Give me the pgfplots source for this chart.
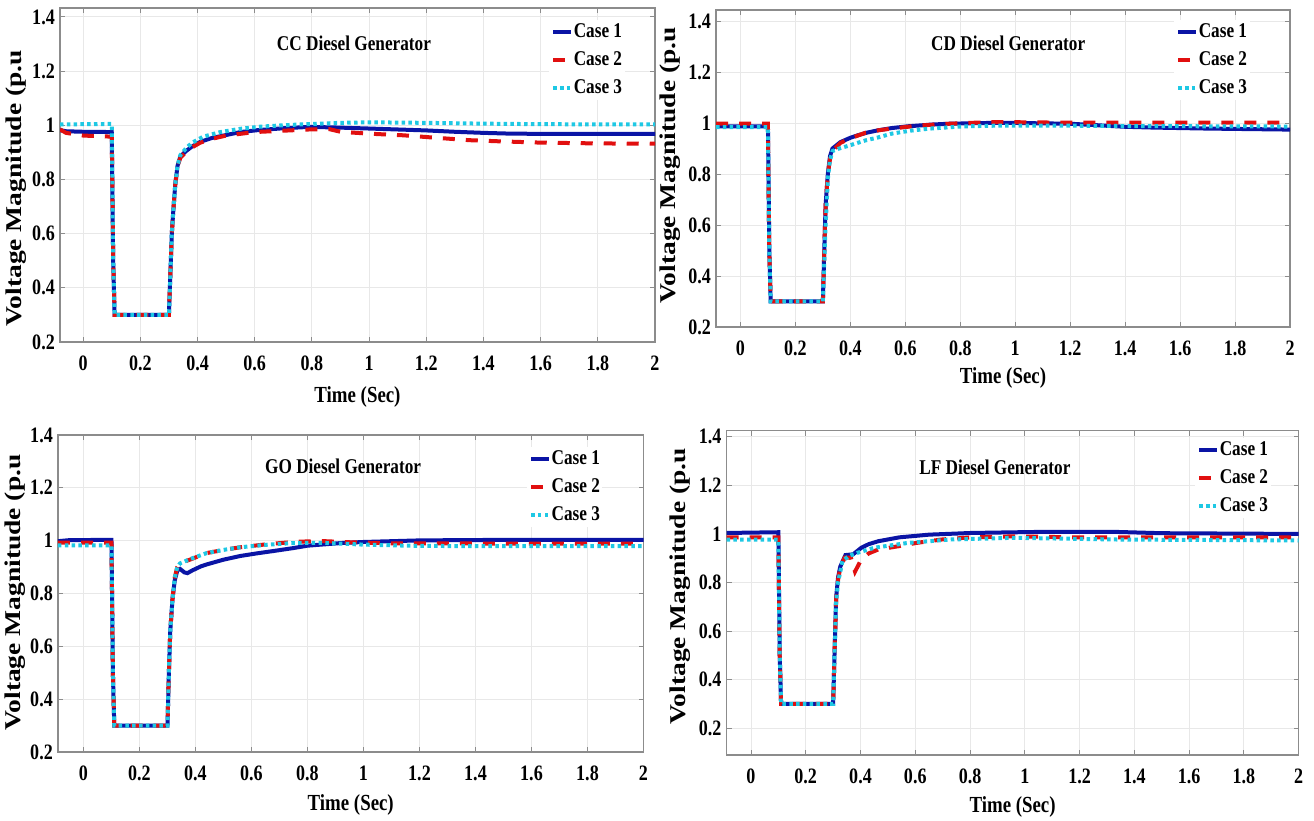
\documentclass[border=0pt]{standalone}
\usepackage{graphicx}
\usepackage{fontspec}
\setmainfont{Liberation Serif}[FakeStretch=0.82]
\newfontfamily\ylabfont{Liberation Serif}
\usepackage{pgfplots}
\pgfplotsset{compat=1.18}
\definecolor{cA}{RGB}{10,20,165}
\definecolor{cB}{RGB}{225,15,15}
\definecolor{cC}{RGB}{30,200,228}

\tikzset{ttl/.style={font=\fontsize{21}{21}\selectfont\bfseries, anchor=center}}
\pgfplotsset{
  panel/.style={
    scale only axis,
    xmax=2, ymin=0.2,
    xtick={0,0.2,0.4,0.6,0.8,1,1.2,1.4,1.6,1.8,2},
    xticklabels={0,0.2,0.4,0.6,0.8,1,1.2,1.4,1.6,1.8,2},
    ytick={0.2,0.4,0.6,0.8,1,1.2,1.4},
    yticklabels={0.2,0.4,0.6,0.8,1,1.2,1.4},
    grid=major,
    major grid style={draw=black!9, line width=0.9pt},
    axis line style={draw=black!45, line width=1.1pt},
    tick align=inside, major tick length=5pt,
    tick style={draw=black!45, line width=0.9pt},
    xticklabel style={font=\fontsize{22}{22}\selectfont\bfseries, anchor=base, yshift=-29pt},
    yticklabel style={font=\fontsize{22}{22}\selectfont\bfseries, anchor=east, inner sep=0pt, xshift=-5pt},
    xlabel={Time (Sec)},
    ylabel={\scalebox{1}[0.82]{Voltage Magnitude (p.u}},
    xlabel style={font=\fontsize{23}{23}\selectfont\bfseries, anchor=base},
    ylabel style={font=\ylabfont\bfseries\fontsize{27.5}{27.5}\selectfont, anchor=center},
    legend cell align=left,
    legend image code/.code={\draw[#1] (0pt,0pt) -- (18pt,0pt);},
    legend style={anchor=north west, draw=none, fill=white, inner xsep=2pt, inner ysep=2pt,
      font=\fontsize{21}{21}\selectfont\bfseries, row sep=8pt,
      nodes={inner sep=0.5pt, text height=15pt, text depth=4pt}},
  },
  c1/.style={cA, line width=4pt},
  c2/.style={cB, line width=4pt, dash pattern=on 12pt off 11pt},
  c3/.style={cC, line width=4pt, dash pattern=on 3.5pt off 3.3pt},
}

\begin{document}
\begin{tikzpicture}
\path[use as bounding box] (0pt,0pt) rectangle (1314pt,821pt);

% ---------------- Panel 1: CC ----------------
\begin{axis}[panel, at={(60pt,479pt)}, anchor=south west, width=595pt, height=334pt,
  xmin=-0.081, ymax=1.433,
  xlabel style={at={(axis description cs:0.5,-0.18)}},
  ylabel style={at={(axis description cs:-0.074,0.46)}},
  legend style={at={(0.822,0.964)}}]
\addplot[c1] coordinates {(-0.081,0.982) (-0.06,0.978) (0.0,0.976) (0.1,0.975) (0.105,0.5) (0.11,0.3) (0.3,0.3) (0.305,0.45) (0.31,0.6) (0.315,0.68) (0.322,0.78) (0.33,0.85) (0.34,0.885) (0.36,0.905) (0.38,0.921) (0.41,0.939) (0.45,0.953) (0.5,0.964) (0.55,0.975) (0.61,0.982) (0.7,0.989) (0.79,0.994) (0.88,0.992) (1.0,0.988) (1.2,0.981) (1.3,0.976) (1.4,0.972) (1.5,0.969) (1.7,0.968) (2.0,0.968)};
\addplot[c2] coordinates {(-0.081,0.985) (-0.06,0.972) (0.0,0.962) (0.1,0.958) (0.105,0.5) (0.11,0.3) (0.3,0.3) (0.305,0.45) (0.31,0.6) (0.315,0.68) (0.322,0.78) (0.33,0.85) (0.34,0.88) (0.36,0.902) (0.38,0.918) (0.41,0.936) (0.45,0.95) (0.5,0.962) (0.6,0.975) (0.7,0.98) (0.8,0.985) (0.86,0.986) (0.9,0.976) (1.0,0.969) (1.12,0.963) (1.22,0.955) (1.35,0.945) (1.45,0.941) (1.6,0.936) (1.8,0.933) (2.0,0.932)};
\addplot[c3] coordinates {(-0.081,1.003) (0.0,1.004) (0.1,1.005) (0.105,0.5) (0.11,0.3) (0.3,0.3) (0.305,0.45) (0.31,0.6) (0.315,0.68) (0.322,0.78) (0.33,0.85) (0.34,0.89) (0.36,0.915) (0.38,0.935) (0.42,0.958) (0.48,0.975) (0.55,0.987) (0.62,0.995) (0.7,1.0) (0.8,1.005) (0.9,1.009) (1.0,1.011) (1.2,1.009) (1.4,1.006) (1.6,1.004) (2.0,1.003)};
\legend{Case 1,Case 2,Case 3}
\node[ttl] at (rel axis cs:0.494,0.895) {CC Diesel Generator};
\end{axis}

% ---------------- Panel 2: CD ----------------
\begin{axis}[panel, at={(716pt,494pt)}, anchor=south west, width=574pt, height=317pt,
  xmin=-0.089, ymax=1.443,
  xlabel style={at={(axis description cs:0.5,-0.177)}},
  ylabel style={at={(axis description cs:-0.080,0.51)}},
  legend style={at={(0.798,0.968)}}]
\addplot[c1] coordinates {(-0.089,0.987) (0.1,0.987) (0.105,0.5) (0.11,0.3) (0.3,0.3) (0.305,0.5) (0.31,0.68) (0.318,0.8) (0.326,0.87) (0.335,0.9) (0.364,0.925) (0.4,0.942) (0.425,0.951) (0.46,0.962) (0.5,0.971) (0.55,0.98) (0.61,0.987) (0.7,0.994) (0.76,0.997) (0.9,1.0) (1.0,1.0) (1.2,0.997) (1.3,0.991) (1.4,0.985) (1.5,0.982) (1.7,0.978) (2.0,0.974)};
\addplot[c2] coordinates {(-0.089,0.997) (0.1,0.997) (0.105,0.5) (0.11,0.3) (0.3,0.3) (0.305,0.5) (0.31,0.68) (0.318,0.8) (0.326,0.86) (0.335,0.89) (0.364,0.922) (0.4,0.94) (0.456,0.962) (0.5,0.971) (0.55,0.978) (0.65,0.99) (0.76,0.997) (0.9,1.003) (1.0,1.003) (1.2,1.001) (2.0,1.001)};
\addplot[c3] coordinates {(-0.089,0.984) (0.1,0.984) (0.105,0.5) (0.11,0.3) (0.3,0.3) (0.305,0.45) (0.31,0.6) (0.318,0.78) (0.325,0.85) (0.335,0.89) (0.36,0.9) (0.4,0.913) (0.456,0.932) (0.5,0.943) (0.55,0.958) (0.62,0.97) (0.69,0.978) (0.8,0.986) (0.9,0.989) (1.1,0.99) (1.4,0.988) (2.0,0.986)};
\legend{Case 1,Case 2,Case 3}
\node[ttl] at (rel axis cs:0.509,0.896) {CD Diesel Generator};
\end{axis}

% ---------------- Panel 3: GO ----------------
\begin{axis}[panel, at={(58pt,69pt)}, anchor=south west, width=585.5pt, height=317pt,
  xmin=-0.091, ymax=1.4,
  xlabel style={at={(axis description cs:0.5,-0.183)}},
  ylabel style={at={(axis description cs:-0.073,0.503)}},
  legend style={at={(0.801,0.962)}}]
\addplot[c1] coordinates {(-0.091,0.998) (-0.05,1.002) (0.1,1.003) (0.105,0.5) (0.11,0.3) (0.3,0.3) (0.305,0.5) (0.31,0.66) (0.318,0.78) (0.326,0.85) (0.335,0.887) (0.345,0.893) (0.36,0.88) (0.371,0.877) (0.39,0.888) (0.42,0.903) (0.44,0.91) (0.5,0.928) (0.56,0.942) (0.62,0.952) (0.68,0.961) (0.75,0.972) (0.8,0.981) (0.92,0.991) (1.0,0.995) (1.2,1.001) (1.5,1.003) (2.0,1.003)};
\addplot[c2] coordinates {(-0.091,0.993) (0.1,0.993) (0.105,0.5) (0.11,0.3) (0.3,0.3) (0.305,0.5) (0.31,0.66) (0.318,0.78) (0.326,0.86) (0.335,0.9) (0.345,0.915) (0.38,0.928) (0.44,0.953) (0.5,0.965) (0.56,0.975) (0.66,0.987) (0.75,0.995) (0.84,0.999) (0.95,0.994) (1.1,0.99) (1.5,0.989) (2.0,0.989)};
\addplot[c3] coordinates {(-0.091,0.982) (0.1,0.982) (0.105,0.5) (0.11,0.3) (0.3,0.3) (0.305,0.5) (0.31,0.66) (0.318,0.78) (0.326,0.86) (0.335,0.9) (0.345,0.914) (0.38,0.93) (0.44,0.953) (0.5,0.965) (0.56,0.975) (0.66,0.985) (0.75,0.991) (0.85,0.992) (1.0,0.985) (1.2,0.98) (1.6,0.979) (2.0,0.979)};
\legend{Case 1,Case 2,Case 3}
\node[ttl] at (rel axis cs:0.487,0.902) {GO Diesel Generator};
\end{axis}

% ---------------- Panel 4: LF ----------------
\begin{axis}[panel, at={(726.6pt,66pt)}, anchor=south west, width=572pt, height=324.3pt,
  xmin=-0.089, ymin=0.09, ymax=1.425,
  xlabel style={at={(axis description cs:0.5,-0.176)}},
  ylabel style={at={(axis description cs:-0.082,0.52)}},
  legend style={at={(0.819,0.977)}}]
\addplot[c1] coordinates {(-0.089,1.004) (0.1,1.007) (0.105,0.5) (0.11,0.3) (0.3,0.3) (0.305,0.5) (0.311,0.738) (0.318,0.82) (0.326,0.865) (0.345,0.913) (0.373,0.916) (0.403,0.943) (0.43,0.958) (0.465,0.97) (0.542,0.986) (0.65,0.997) (0.804,1.004) (1.035,1.008) (1.343,1.008) (1.5,1.003) (2.0,1.0)};
\addplot[c2] coordinates {(-0.089,0.986) (0.1,0.986) (0.105,0.5) (0.11,0.3) (0.3,0.3) (0.305,0.5) (0.311,0.73) (0.318,0.81) (0.326,0.861) (0.342,0.902) (0.365,0.902) (0.38,0.845) (0.403,0.895) (0.43,0.92) (0.465,0.936) (0.542,0.95) (0.604,0.963) (0.696,0.977) (0.804,0.986) (0.958,0.99) (1.19,0.986) (2.0,0.986)};
\addplot[c3] coordinates {(-0.089,0.977) (0.1,0.977) (0.105,0.5) (0.11,0.3) (0.3,0.3) (0.305,0.5) (0.311,0.72) (0.318,0.8) (0.334,0.888) (0.357,0.909) (0.388,0.922) (0.45,0.943) (0.573,0.963) (0.727,0.977) (0.958,0.984) (1.34,0.977) (2.0,0.973)};
\legend{Case 1,Case 2,Case 3}
\node[ttl] at (rel axis cs:0.469,0.888) {LF Diesel Generator};
\end{axis}
\end{tikzpicture}
\end{document}
